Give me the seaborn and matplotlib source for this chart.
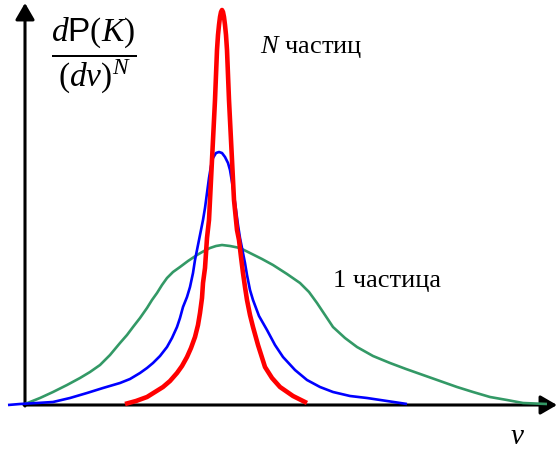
import seaborn as sns
import matplotlib
import matplotlib.pyplot as plt

matplotlib.use("agg")

# curves: x position and height above the v axis
one_x = [25, 40, 53, 67, 80, 90, 100, 110, 120, 127, 133, 140, 147, 152, 157,
         162, 167, 173, 180, 188, 197, 204, 210, 216, 222, 230, 240, 250, 262,
         273, 287, 300, 309, 317, 325, 333, 345, 357, 373, 390, 406, 423, 440,
         457, 473, 490, 507, 523, 547]
one_y = [1, 7, 13, 20, 27, 33, 40, 50, 62, 70, 78, 87, 97, 105, 112,
         120, 127, 133, 138, 144, 150, 154, 157, 159, 160, 159, 157, 152, 146,
         140, 131, 122, 113, 102, 90, 78, 67, 58, 49, 42, 36, 30, 24,
         18, 13, 8, 5, 2, 1]

mid_x = [8, 20, 37, 53, 70, 87, 103, 120, 130, 140, 147, 153, 160, 167, 172,
         177, 180, 183, 187, 190, 193, 195, 197, 199, 201, 203, 205, 207, 209,
         211, 213, 216, 219, 222, 225, 228, 230, 232, 234, 236, 238, 240, 242,
         245, 247, 250, 253, 259, 267, 275, 283, 295, 307, 320, 333, 350, 367,
         387, 407]
mid_y = [0, 1, 2, 3, 7, 12, 17, 22, 26, 32, 37, 42, 49, 58, 67,
         78, 87, 98, 108, 118, 132, 145, 155, 165, 175, 185, 197, 212, 227,
         239, 247, 252, 253, 252, 248, 242, 235, 223, 210, 195, 180, 167, 157,
         142, 130, 115, 105, 89, 75, 60, 48, 35, 25, 18, 13, 9, 7,
         4, 1]

n_x = [125, 136, 147, 155, 163, 170, 177, 182, 187, 191, 195, 198, 200, 202,
       203, 205, 206, 207, 209, 210, 211, 212, 213, 214, 215, 216, 217, 218,
       219, 220, 221, 222, 223, 224, 225, 226, 227, 228, 229, 230, 231, 232,
       233, 234, 236, 237, 239, 241, 243, 245, 247, 250, 253, 258, 265, 272,
       280, 293, 307]
n_y = [1, 4, 8, 13, 18, 24, 32, 39, 48, 57, 68, 80, 92, 107,
       122, 137, 152, 167, 185, 205, 225, 245, 265, 285, 305, 330, 355, 370,
       380, 388, 393, 395, 393, 388, 380, 370, 355, 330, 305, 285, 265, 245,
       225, 205, 185, 175, 165, 148, 132, 118, 105, 90, 78, 60, 38, 27,
       18, 9, 2]

sns.set_theme(style="white")
plt.rcParams["font.family"] = ["Liberation Serif", "DejaVu Serif"]
plt.rcParams["mathtext.fontset"] = "custom"
plt.rcParams["mathtext.rm"] = "Liberation Serif"
plt.rcParams["mathtext.it"] = "Liberation Serif:italic"
plt.rcParams["mathtext.sf"] = "Liberation Sans"
plt.rcParams["text.color"] = "black"

fig = plt.figure(figsize=(5.57, 4.5), dpi=100)
ax = fig.add_axes([0, 0, 1, 1])
ax.set_xlim(0, 557)
ax.set_ylim(-45, 405)
ax.axis("off")

# axes with arrow heads
arrow = dict(arrowstyle="-|>,head_length=0.5,head_width=0.29", lw=2.2,
             color="black", shrinkA=0, shrinkB=0, mutation_scale=20)
ax.annotate("", xy=(25, 402), xytext=(25, -1), arrowprops=arrow, zorder=1)
ax.annotate("", xy=(557, 0), xytext=(24, 0), arrowprops=arrow, zorder=1)

line_kw = dict(ax=ax, solid_joinstyle="round", solid_capstyle="butt")
sns.lineplot(x=one_x, y=one_y, color="#339966", linewidth=1.9, zorder=3, **line_kw)
sns.lineplot(x=mid_x, y=mid_y, color="#0000FF", linewidth=1.9, zorder=4, **line_kw)
sns.lineplot(x=n_x, y=n_y, color="#FF0000", linewidth=3.3, zorder=5, **line_kw)

ax.text(94, 350, r"$\dfrac{d\mathsf{P}(K)}{(dv)^N}$", fontsize=24,
        ha="center", va="center")
ax.text(260, 352, r"$N$ частиц", fontsize=19, ha="left", va="baseline")
ax.text(333, 118, "1 частица", fontsize=19, ha="left", va="baseline")
ax.text(517, -32, r"$v$", fontsize=21, ha="center", va="center")

fig.savefig("out.png", dpi=100)
